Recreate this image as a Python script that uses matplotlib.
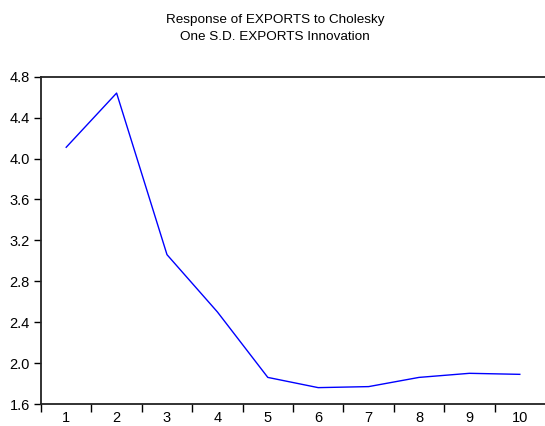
import numpy as np
import matplotlib.pyplot as plt

plt.rcParams['font.family'] = ['Liberation Sans', 'DejaVu Sans']

# impulse response, periods 1..10
periods = [1, 2, 3, 4, 5, 6, 7, 8, 9, 10]
response = [4.11, 4.64, 3.06, 2.50, 1.86, 1.76, 1.77, 1.86, 1.90, 1.89]

fig = plt.figure(figsize=(5.45, 4.26), dpi=100)
ax = fig.add_axes([41 / 545, 1 - 404 / 426, 504 / 545, (404 - 76.7) / 426])

ax.plot(periods, response, color='#0000ff', lw=1.0)

ax.set_xlim(0.5, 10.5)
ax.set_ylim(1.6, 4.8)
ax.set_yticks(np.arange(1.6, 4.81, 0.4))
ax.set_yticklabels(['%.1f' % v for v in np.arange(1.6, 4.81, 0.4)])

# category labels centred, tick marks between categories
ax.set_xticks(np.arange(0.5, 10.5, 1.0))
ax.set_xticklabels([])
ax.set_xticks(periods, minor=True)
ax.set_xticklabels([str(p) for p in periods], minor=True)
ax.tick_params(axis='x', which='major', direction='out', length=6, width=1)
ax.tick_params(axis='x', which='minor', length=0, pad=5, labelsize=10.5)
ax.tick_params(axis='y', direction='out', length=5, width=1, pad=3, labelsize=10.5)

ax.spines['right'].set_visible(False)
for s in ('left', 'bottom', 'top'):
    ax.spines[s].set_linewidth(1.3)
    ax.spines[s].set_color('#222222')

fig.text(0.505, 1 - 20 / 426, 'Response of EXPORTS to Cholesky', ha='center', va='center', fontsize=9.7)
fig.text(0.505, 1 - 37 / 426, 'One S.D. EXPORTS Innovation', ha='center', va='center', fontsize=9.7)

fig.savefig('out.png', dpi=100)
